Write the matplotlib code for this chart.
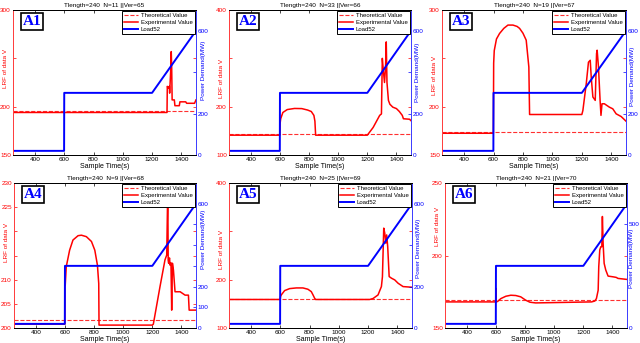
import matplotlib
matplotlib.use("Agg")
import matplotlib.pyplot as plt

plt.rcParams['font.family'] = ['Liberation Sans', 'DejaVu Sans']

# load curve (same in every panel)
load_t = [250, 599, 600, 1200, 1500]
load_v = [20, 20, 300, 300, 600]

a1_t = [250, 1302, 1304, 1310, 1318, 1320, 1328, 1331, 1334, 1337, 1352, 1356, 1386, 1390, 1430, 1436, 1490, 1500]
a1_v = [194, 194, 221, 219, 221, 214, 240, 257, 240, 207, 207, 201, 201, 205, 205, 203.5, 203.5, 207]

a2_t = [250, 599, 601, 605, 620, 650, 700, 750, 790, 815, 833, 840, 845, 1200, 1240, 1285, 1297, 1303,
        1310, 1318, 1325, 1330, 1335, 1345, 1355, 1375, 1400, 1420, 1440, 1448, 1490, 1500]
a2_v = [141, 141, 165, 175, 188, 194, 196.3, 196, 193, 190, 182, 170, 141, 141, 157, 182, 185, 300,
        275, 250, 280, 334, 250, 213, 205, 199, 196, 190, 182, 175, 174, 171]

a3_t = [250, 599, 601, 605, 620, 641, 670, 698, 732, 760, 777, 800, 822, 840, 845, 1200, 1207, 1230,
        1245, 1257, 1264, 1275, 1291, 1300, 1304, 1313, 1324, 1330, 1337, 1353, 1387, 1410, 1433, 1467, 1500]
a3_v = [172.5, 172.5, 245, 258, 270, 275.7, 281, 284.4, 284.4, 283, 281, 276, 268.8, 241, 191.9, 191.9, 196, 223.8,
        246, 248, 230, 210, 206.5, 255, 258.4, 241, 206.5, 191, 203, 203, 199.5, 197.8, 192.6, 189.8, 185]

a4_t = [250, 599, 600, 602, 609, 632, 655, 690, 713, 747, 782, 805, 823, 832, 834, 1200, 1207, 1253,
        1287, 1299, 1304, 1306, 1309, 1312, 1318, 1322, 1328, 1333, 1338, 1345, 1356, 1391, 1425, 1448, 1453, 1500]
a4_v = [200.8, 200.8, 209, 208.9, 212.7, 216.1, 218.2, 219.1, 219.2, 218.9, 217.9, 216.1, 213, 209.2, 200.6, 200.6, 200.8, 208.6,
        214.1, 215.1, 225, 229.9, 214, 213.4, 214.5, 213, 213.5, 203.7, 213.4, 212, 207.5, 207.5, 206.8, 206.8, 203.7, 203.7]

a5_t = [250, 600, 602, 607, 630, 664, 710, 755, 789, 812, 824, 835, 842, 1211, 1234, 1268, 1291, 1298,
        1307, 1314, 1321, 1327, 1334, 1344, 1360, 1382, 1405, 1439, 1500]
a5_v = [159, 159, 165, 168.4, 177.4, 181.5, 182.9, 182.9, 180.2, 175.3, 168.4, 161.5, 159, 159, 161, 168.4, 185.7, 206,
        306.6, 296, 275.5, 292.6, 268.6, 206.4, 203, 199.5, 192.6, 185.7, 184.3]

a6_t = [250, 599, 600, 602, 611, 634, 668, 702, 736, 770, 804, 833, 872, 1257, 1279, 1290, 1302, 1306,
        1313, 1320, 1327, 1331, 1336, 1343, 1354, 1370, 1404, 1426, 1438, 1500]
a6_v = [168, 168, 177.3, 168, 168.3, 170.3, 171.9, 172.6, 172.4, 171.5, 169.2, 167.8, 167.3, 168, 168.6, 170.3, 176.1, 192.3,
        203.8, 206, 206, 226.9, 208.4, 194.6, 190, 185.8, 185.3, 184.9, 184.2, 183.5]

theo = [195.5, 143, 173.5, 201.7, 159.5, 169.2]
names = ['A1', 'A2', 'A3', 'A4', 'A5', 'A6']
n_vals = [11, 33, 19, 9, 25, 21]
ver_vals = [65, 66, 67, 68, 69, 70]
ylims = [(150, 300), (100, 400), (150, 300), (200, 230), (100, 400), (150, 250)]
yticks = [[150, 200, 250, 300], [100, 200, 300, 400], [150, 200, 250, 300],
          [200, 205, 210, 215, 220, 225, 230], [100, 200, 300, 400], [150, 200, 250]]
ylabels = [['150', '200', '', '300'], ['100', '200', '', '400'], ['150', '200', '', '300'],
           ['200', '205', '210', '', '', '225', '230'], ['100', '200', '', '400'], ['150', '200', '250']]
rticks = [[0, 200, 400, 600], [0, 200, 400, 600], [0, 200, 400, 600],
          [0, 100, 200, 300, 400, 500, 600], [0, 200, 400, 600], [0, 500]]
rlabels = [['0', '200', '', '600'], ['0', '200', '', '600'], ['0', '200', '', '600'],
           ['0', '100', '200', '', '', '', '600'], ['0', '200', '', '600'], ['0', '500']]
exp_t = [a1_t, a2_t, a3_t, a4_t, a5_t, a6_t]
exp_v = [a1_v, a2_v, a3_v, a4_v, a5_v, a6_v]

W, H = 640.0, 343.0
# axes boxes in pixels: left, right, top, bottom
boxes = [(13, 196, 10, 155), (229, 411, 10, 155), (442, 626, 10, 155),
         (14, 196, 183, 328), (229, 412, 183, 328), (445, 627, 183, 328)]
# where the axis titles sit (axes fraction)
left_lab_y = [0.60, 0.53, 0.55, 0.59, 0.545, 0.70]
right_lab_y = [0.585, 0.57, 0.54, 0.61, 0.55, 0.48]
right_lab_x = [1.04, 1.035, 1.035, 1.04, 1.035, 1.025]

fig = plt.figure(figsize=(6.4, 3.43), dpi=100)
fs = 4.6

for i in range(6):
    l, r, t, b = boxes[i]
    ax = fig.add_axes([l / W, 1 - b / H, (r - l) / W, (b - t) / H])
    ax2 = ax.twinx()

    h1, = ax.plot([250, 1500], [theo[i], theo[i]], '--', color='#ff3030', lw=0.8, label='Theoretical Value')
    h2, = ax.plot(exp_t[i], exp_v[i], '-', color='red', lw=1.1, label='Experimental Value')
    h3, = ax2.plot(load_t, load_v, '-', color='blue', lw=1.4, label='Load52')

    ax.set_xlim(250, 1500)
    ax.set_ylim(*ylims[i])
    ax2.set_ylim(0, 700)
    ax.set_xticks([400, 600, 800, 1000, 1200, 1400])
    ax.set_yticks(yticks[i])
    ax.set_yticklabels(ylabels[i])
    ax2.set_yticks(rticks[i])
    ax2.set_yticklabels(rlabels[i])

    ax.tick_params(axis='x', direction='in', top=True, length=2, labelsize=fs, pad=1.5, width=0.5)
    ax.tick_params(axis='y', direction='in', right=True, length=2, labelsize=fs, pad=1.5,
                   colors='red', width=0.5)
    ax2.tick_params(axis='y', direction='in', length=2, labelsize=fs, pad=1, colors='blue', width=0.5)

    for a in (ax, ax2):
        a.spines['left'].set_color('#ff4040')
        a.spines['right'].set_color('#4040ff')
        a.spines['top'].set_color('black')
        a.spines['bottom'].set_color('black')
        for s in a.spines.values():
            s.set_linewidth(0.7)

    ax.set_title('Tlength=240  N=%d ||Ver=%d' % (n_vals[i], ver_vals[i]), fontsize=fs, pad=2)
    ax.set_xlabel('Sample Time(s)', fontsize=fs + 0.4, labelpad=0.5)
    ax.set_ylabel('LRF of data V', fontsize=fs, color='red')
    ax.yaxis.set_label_coords(-0.04, left_lab_y[i])
    ax.yaxis.label.set_va('center')
    ax2.set_ylabel('Power Demand(MW)', fontsize=fs, color='blue')
    ax2.yaxis.set_label_coords(right_lab_x[i], right_lab_y[i])
    ax2.yaxis.label.set_va('center')

    leg = ax2.legend([h1, h2, h3], ['Theoretical Value', 'Experimental Value', 'Load52'],
                     loc='upper right', fontsize=fs - 0.3, fancybox=False, edgecolor='black',
                     framealpha=1, borderaxespad=0.25, borderpad=0.3, labelspacing=0.25,
                     handlelength=2.3, handletextpad=0.5)
    leg.get_frame().set_linewidth(0.7)

    ax2.text(0.052, 0.965, names[i], transform=ax2.transAxes, ha='left', va='top',
             fontsize=11, family='Liberation Serif', weight='bold', color='blue',
             bbox=dict(boxstyle='square,pad=0.12', facecolor='white', edgecolor='black', lw=1.2))

fig.savefig('out.png', dpi=100)
